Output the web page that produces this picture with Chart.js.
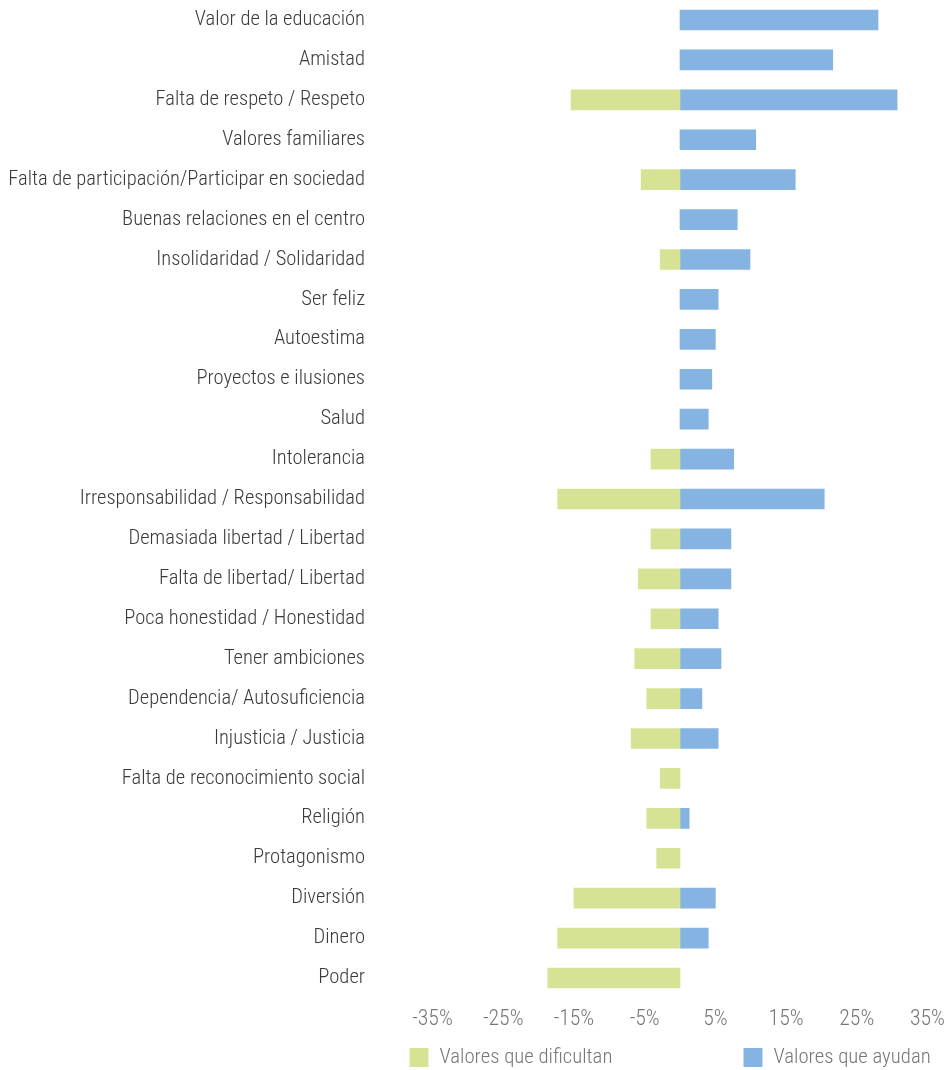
<!DOCTYPE html>
<html>
<head>
<meta charset="utf-8">
<script src="https://cdn.jsdelivr.net/npm/chart.js@4/dist/chart.umd.min.js"></script>
<style>
html,body{margin:0;padding:0;background:#ffffff;}
#wrap{width:949px;height:1070px;position:relative;}
</style>
</head>
<body>
<div id="wrap"><canvas id="c"></canvas></div>
<script>
const categories = [
  "Valor de la educación","Amistad","Falta de respeto / Respeto","Valores familiares",
  "Falta de participación/Participar en sociedad","Buenas relaciones en el centro",
  "Insolidaridad / Solidaridad","Ser feliz","Autoestima","Proyectos e ilusiones","Salud",
  "Intolerancia","Irresponsabilidad / Responsabilidad","Demasiada libertad / Libertad",
  "Falta de libertad/ Libertad","Poca honestidad / Honestidad","Tener ambiciones",
  "Dependencia/ Autosuficiencia","Injusticia / Justicia","Falta de reconocimiento social",
  "Religión","Protagonismo","Diversión","Dinero","Poder"
];
const dificultan = [0,0,-15.4,0,-5.5,0,-2.8,0,0,0,0,-4.1,-17.3,-4.1,-5.9,-4.1,-6.4,-4.7,-6.9,-2.8,-4.7,-3.3,-15.0,-17.3,-18.7];
const ayudan = [28.0,21.6,30.7,10.7,16.3,8.1,9.9,5.4,5.0,4.5,4.0,7.6,20.4,7.2,7.2,5.4,5.8,3.1,5.4,0,1.3,0,5.0,4.0,0];
const xTicks = [-35,-25,-15,-5,5,15,25,35];
const seriesNames = ["Valores que dificultan","Valores que ayudan"];
const seriesColors = ["#d7e394","#85b4e3"];

// ---- font selection ----
const probe = document.createElement('canvas').getContext('2d');
function mw(font, s){ probe.font = font; return probe.measureText(s).width; }
const S = "Falta de participación/Participar en sociedad";
const FAM = '"Roboto Condensed", "Liberation Sans", sans-serif';
const hasLight = mw('300 100px ' + FAM, S) !== mw('400 100px ' + FAM, S);
const WT = hasLight ? '300' : 'normal';
function fitSize(text, target){
  const w = mw(WT + ' 100px ' + FAM, text);
  return target*100/w;
}
const catSize = fitSize(S, 357);
const tickSize = fitSize("35%", 35);
const legSize = fitSize(seriesNames[0], 173);

const legendPlugin = {
  id: 'sideLegend',
  afterDraw(chart){
    const {ctx, chartArea} = chart;
    const starts = [chartArea.left - 23, chartArea.left + 311];
    ctx.save();
    ctx.font = WT + ' ' + legSize + 'px ' + FAM;
    ctx.textBaseline = 'middle';
    ctx.textAlign = 'left';
    chart.data.datasets.forEach((ds, i) => {
      const x = starts[i];
      ctx.fillStyle = ds.backgroundColor;
      ctx.fillRect(x, 1048, 19, 19);
      ctx.fillStyle = '#767676';
      ctx.fillText(ds.label, x + 30, 1058);
    });
    ctx.restore();
  }
};

const nz = (arr) => arr.map(v => v === 0 ? null : v);

new Chart(document.getElementById('c'), {
  type: 'bar',
  data: {
    labels: categories,
    datasets: [
      {label: seriesNames[0], data: nz(dificultan), backgroundColor: seriesColors[0], borderWidth: 0, barThickness: 20},
      {label: seriesNames[1], data: nz(ayudan), backgroundColor: seriesColors[1], borderWidth: 0, barThickness: 20}
    ]
  },
  options: {
    indexAxis: 'y',
    responsive: true,
    maintainAspectRatio: false,
    animation: false,
    layout: {padding: {top: 0, right: 21.5, bottom: 32, left: 0}},
    plugins: {legend: {display: false}, tooltip: {enabled: false}},
    scales: {
      x: {
        stacked: true,
        min: -35, max: 35,
        afterBuildTicks: (scale) => { scale.ticks = xTicks.map(v => ({value: v})); },
        afterFit: (scale) => { scale.height = 40; scale.paddingLeft = 0; scale.paddingRight = 0; },
        grid: {display: false, drawTicks: false},
        border: {display: false},
        ticks: {
          padding: 9,
          color: '#767676',
          font: {family: FAM, size: tickSize, weight: WT},
          callback: (v) => v + '%',
          maxRotation: 0, autoSkip: false
        }
      },
      y: {
        stacked: true,
        afterFit: (scale) => { scale.width = 432.5; scale.paddingTop = 0; scale.paddingBottom = 0; },
        grid: {display: false, drawTicks: false},
        border: {display: false},
        ticks: {
          padding: 67.5,
          color: '#3a3a3a',
          autoSkip: false,
          font: {family: FAM, size: catSize, weight: WT}
        }
      }
    }
  },
  plugins: [legendPlugin]
});
</script>
</body>
</html>
